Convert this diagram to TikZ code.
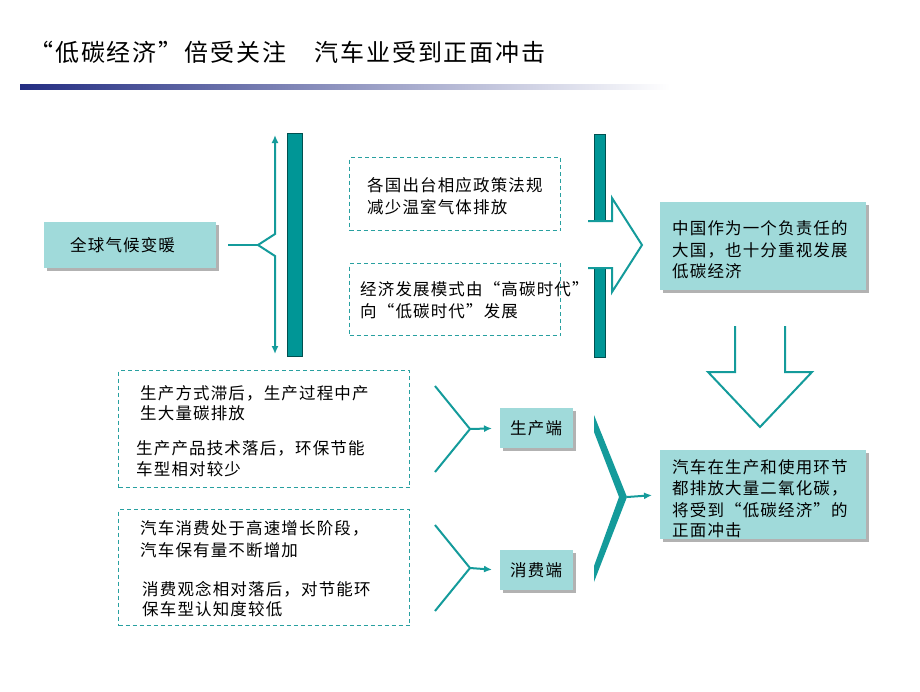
\documentclass[tikz,border=0pt]{standalone}
\usepackage{fontspec}
\setmainfont{Noto Sans CJK SC}
\newfontfamily\bodyf[LetterSpace=7]{Noto Sans CJK SC}
\newfontfamily\titlef[LetterSpace=8]{Noto Sans CJK SC}
\usetikzlibrary{arrows.meta,shadows}
\definecolor{tl}{RGB}{20,155,155}
\definecolor{boxfill}{RGB}{160,218,218}
\definecolor{barfill}{RGB}{0,150,150}
\definecolor{bardraw}{RGB}{0,80,80}
\definecolor{dashc}{RGB}{40,160,160}
\definecolor{navy}{RGB}{35,45,130}
\begin{document}
\begin{tikzpicture}[x=1pt,y=-1pt,
  txt/.style={anchor=base west, inner sep=0pt, font=\bodyf\fontsize{16.5}{16.5}\selectfont},
  fbox/.style={anchor=north west, fill=boxfill, draw=none, inner sep=0pt,
    drop shadow={shadow xshift=3pt, shadow yshift=-3pt, fill=black!30, opacity=1}},
  dbox/.style={anchor=north west, draw=dashc, line width=1.2pt, dash pattern=on 4pt off 3pt, inner sep=0pt},
  barbox/.style={anchor=north west, fill=barfill, draw=bardraw, line width=0.8pt, inner sep=0pt},
  tline/.style={draw=tl, line width=2pt},
  tarrow/.style={tline, -{Latex[length=8pt,width=7pt]}}]
\useasboundingbox (0,0) rectangle (920,691);

% title and bar
\node[anchor=base west, inner sep=0pt, font=\titlef\fontsize{24}{24}\selectfont] (title) at (29,61) {“低碳经济”倍受关注　汽车业受到正面冲击};
\shade[left color=navy, right color=white] (20,84) rectangle (670,89);

% filled boxes
\node[fbox, minimum width=172pt, minimum height=46pt] (gw) at (44,222) {};
\node[fbox, minimum width=206pt, minimum height=88pt] (cn) at (660,202) {};
\node[fbox, minimum width=206pt, minimum height=89pt] (car) at (660,450) {};
\node[fbox, minimum width=73pt, minimum height=40pt] (prod) at (500,408) {};
\node[fbox, minimum width=73pt, minimum height=40pt] (cons) at (500,550) {};

% dashed boxes
\node[dbox, minimum width=211pt, minimum height=73pt] (d1) at (349,157) {};
\node[dbox, minimum width=211pt, minimum height=72pt] (d2) at (349,263) {};
\node[dbox, minimum width=291pt, minimum height=117pt] (d3) at (118,370) {};
\node[dbox, minimum width=291pt, minimum height=116pt] (d4) at (118,509) {};

% bars
\node[barbox, minimum width=15pt, minimum height=223pt] (bl) at (287,133) {};
\node[barbox, minimum width=11pt, minimum height=87pt] (br1) at (594,134) {};
\node[barbox, minimum width=11pt, minimum height=89pt] (br2) at (594,268) {};

% texts
\node[txt] (t0) at (70,251) {全球气候变暖};
\node[txt] (t1a) at (367,191) {各国出台相应政策法规};
\node[txt] (t1b) at (367,213) {减少温室气体排放};
\node[txt] (t2a) at (360,295) {经济发展模式由“高碳时代”};
\node[txt] (t2b) at (360,317) {向“低碳时代”发展};
\node[txt] (t3a) at (672,234) {中国作为一个负责任的};
\node[txt] (t3b) at (672,256) {大国，也十分重视发展};
\node[txt] (t3c) at (672,277) {低碳经济};
\node[txt] (t4a) at (672,473) {汽车在生产和使用环节};
\node[txt] (t4b) at (672,494) {都排放大量二氧化碳，};
\node[txt] (t4c) at (672,516) {将受到“低碳经济”的};
\node[txt] (t4d) at (672,536) {正面冲击};
\node[txt] (t5a) at (140,399) {生产方式滞后，生产过程中产};
\node[txt] (t5b) at (140,419) {生大量碳排放};
\node[txt] (t5c) at (136,454) {生产产品技术落后，环保节能};
\node[txt] (t5d) at (136,475) {车型相对较少};
\node[txt] (t6a) at (140,534) {汽车消费处于高速增长阶段，};
\node[txt] (t6b) at (140,556) {汽车保有量不断增加};
\node[txt] (t6c) at (142,595) {消费观念相对落后，对节能环};
\node[txt] (t6d) at (142,615) {保车型认知度较低};
\node[txt] (t7) at (510,434) {生产端};
\node[txt] (t8) at (510,576) {消费端};

% left bracket with double arrow
\coordinate (gwout) at (228,245);
\coordinate (btip) at (258,245);
\coordinate (btop) at (275,135);
\coordinate (bbot) at (275,354);
\draw[tline] (gwout) -- (btip);
\draw[tline, {Latex[length=8pt,width=7pt]}-{Latex[length=8pt,width=7pt]}] (btop) -- (275,234) -- (btip) -- (275,256) -- (bbot);

% right outline arrow
\draw[tl, line width=2pt, line join=miter] (588,221) -- (612,221) -- (612,198) -- (642,245) -- (612,292) -- (612,268) -- (588,268);

% down outline arrow
\draw[tl, line width=2pt, line join=miter] (735,326) -- (735,372) -- (708,372) -- (760,427) -- (812,372) -- (785,372) -- (785,326);

% small brackets
\coordinate (p1) at (470,429);
\coordinate (p2) at (470,568);
\draw[tline] (435,386) -- (p1) -- (435,472);
\draw[tarrow, shorten >=8pt] (p1) -- (prod.west);
\draw[tline] (435,525) -- (p2) -- (435,611);
\draw[tarrow, shorten >=8pt] (p2) -- (cons.west);

% big chevron
\coordinate (ctip) at (627,497);
\fill[tl] (594,415) -- (ctip) -- (594,582) -- (594,566) -- (619,497) -- (594,432) -- cycle;
\draw[tarrow, shorten >=8pt] (ctip) -- (car.west);
\end{tikzpicture}
\end{document}
